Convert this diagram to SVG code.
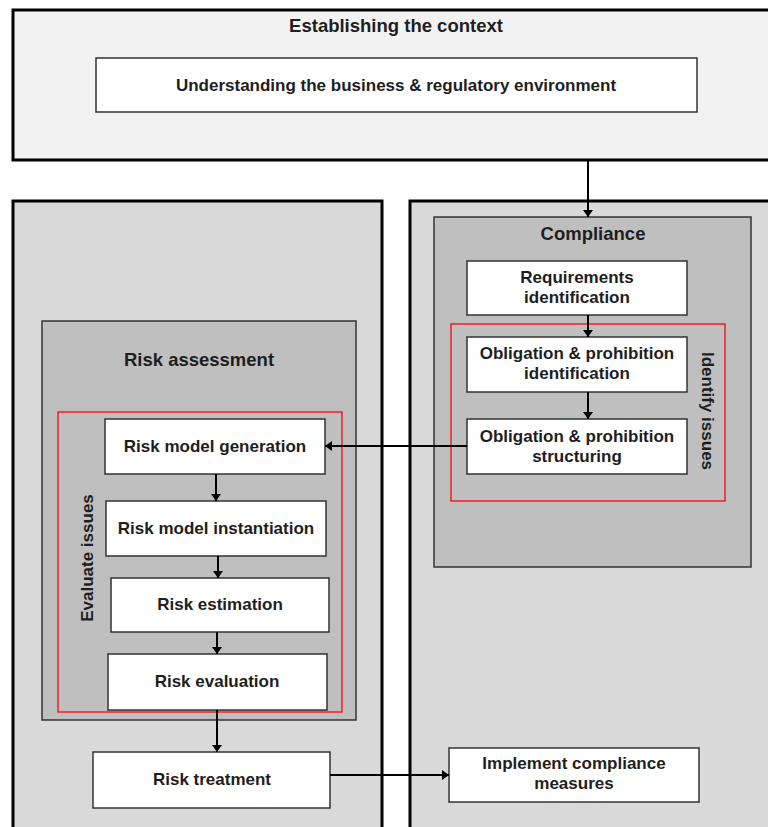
<svg xmlns="http://www.w3.org/2000/svg" width="768" height="827" viewBox="0 0 768 827">
<defs>
<marker id="ah" markerUnits="userSpaceOnUse" markerWidth="7" markerHeight="10" refX="7" refY="5" orient="auto">
<path d="M0,0 L7,5 L0,10 z" fill="#000"/>
</marker>
<style>
text{font-family:"Liberation Sans",Arial,sans-serif;font-weight:bold;fill:#1e1e1e;text-anchor:middle}
.t{font-size:17px}
.h{font-size:18.5px}
.big{stroke:#000;stroke-width:3}
.grp{fill:#bfbfbf;stroke:#333;stroke-width:1.5}
.box{fill:#fff;stroke:#333;stroke-width:1.5}
.red{fill:none;stroke:#f01818;stroke-width:1.4}
.c{fill:none;stroke:#000;stroke-width:2;marker-end:url(#ah)}
</style>
</defs>
<rect width="768" height="827" fill="#fff"/>
<g id="context">
<rect class="big" x="13" y="10" width="800" height="150" fill="#f2f2f2"/>
<text class="h" x="396" y="32">Establishing the context</text>
</g>
<g id="understanding">
<rect class="box" x="96" y="58" width="601" height="54"/>
<text class="t" x="396" y="91">Understanding the business &amp; regulatory environment</text>
</g>
<g id="left-panel">
<rect class="big" x="13" y="201" width="369" height="660" fill="#d9d9d9"/>
</g>
<g id="right-panel">
<rect class="big" x="410" y="201" width="400" height="660" fill="#d9d9d9"/>
</g>
<g id="compliance">
<rect class="grp" x="434" y="217" width="317" height="350"/>
<text class="h" x="593" y="240">Compliance</text>
</g>
<g id="identify-issues">
<rect class="red" x="451" y="324" width="274" height="177"/>
<text class="t" transform="translate(702,411) rotate(90)">Identify issues</text>
</g>
<g id="requirements">
<rect class="box" x="467" y="261" width="220" height="54"/>
<text class="t" x="577" y="283">Requirements</text>
<text class="t" x="577" y="303">identification</text>
</g>
<g id="obl-identification">
<rect class="box" x="467" y="337" width="220" height="55"/>
<text class="t" x="577" y="359">Obligation &amp; prohibition</text>
<text class="t" x="577" y="379">identification</text>
</g>
<g id="obl-structuring">
<rect class="box" x="467" y="419" width="220" height="55"/>
<text class="t" x="577" y="442">Obligation &amp; prohibition</text>
<text class="t" x="577" y="462">structuring</text>
</g>
<g id="risk-assessment">
<rect class="grp" x="42" y="321" width="314" height="399"/>
<text class="h" x="199" y="366">Risk assessment</text>
</g>
<g id="evaluate-issues">
<rect class="red" x="58" y="412" width="284" height="300"/>
<text class="t" transform="translate(93,558) rotate(-90)">Evaluate issues</text>
</g>
<g id="risk-model-generation">
<rect class="box" x="105" y="419" width="220" height="55"/>
<text class="t" x="215" y="452">Risk model generation</text>
</g>
<g id="risk-model-instantiation">
<rect class="box" x="106" y="501" width="220" height="55"/>
<text class="t" x="216" y="534">Risk model instantiation</text>
</g>
<g id="risk-estimation">
<rect class="box" x="111" y="578" width="218" height="54"/>
<text class="t" x="220" y="610">Risk estimation</text>
</g>
<g id="risk-evaluation">
<rect class="box" x="108" y="654" width="219" height="56"/>
<text class="t" x="217" y="687">Risk evaluation</text>
</g>
<g id="risk-treatment">
<rect class="box" x="93" y="752" width="237" height="56"/>
<text class="t" x="212" y="785">Risk treatment</text>
</g>
<g id="implement">
<rect class="box" x="449" y="748" width="250" height="54"/>
<text class="t" x="574" y="769">Implement compliance</text>
<text class="t" x="574" y="789">measures</text>
</g>
<g id="connectors">
<path class="c" d="M588,161 V217"/>
<path class="c" d="M588,315 V337"/>
<path class="c" d="M588,392 V419"/>
<path class="c" d="M467,446 H325"/>
<path class="c" d="M216,474 V501"/>
<path class="c" d="M218,556 V578"/>
<path class="c" d="M217,632 V654"/>
<path class="c" d="M217,710 V752"/>
<path class="c" d="M330,775 H449"/>
</g>
</svg>
